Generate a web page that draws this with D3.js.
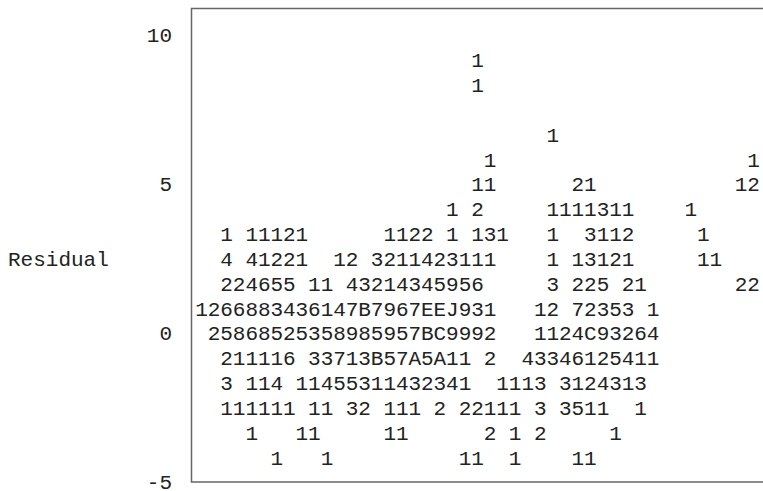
<!DOCTYPE html>
<html>
<head>
<meta charset="utf-8">
<script src="https://cdn.jsdelivr.net/npm/d3@7/dist/d3.min.js"></script>
<style>
  html, body { margin: 0; padding: 0; background: #fff; }
  svg text { font-family: "Liberation Mono", "Courier New", monospace; }
</style>
</head>
<body>
<svg width="763" height="491"></svg>
<script>
// residual value of each printer line (6 lines per 5 units)
var rowLevels = [9.17, 8.33, 7.5, 6.67, 5.83, 5, 4.17, 3.33, 2.5, 1.67, 0.83, 0,
                 -0.83, -1.67, -2.5, -3.33, -4.17];

// symbols printed on each line, one character per column (count of obs)
var rowSymbols = [
  "                      1",
  "                      1",
  "",
  "                            1",
  "                       1                    1",
  "                      11      21           12",
  "                    1 2     1111311    1",
  "  1 11121      1122 1 131   1  3112     1",
  "  4 41221  12 3211423111    1 13121     11",
  "  224655 11 43214345956     3 225 21       22",
  "1266883436147B7967EEJ931   12 72353 1",
  " 25868525358985957BC9992   1124C93264",
  "  211116 33713B57A5A11 2  43346125411",
  "  3 114 11455311432341  1113 3124313",
  "  111111 11 32 111 2 22111 3 3511  1",
  "    1   11     11      2 1 2     1",
  "      1   1          11  1    11"
];

var yTicks = [10, 5, 0, -5];
var yLabel = "Residual";

var svg = d3.select("svg"),
    width = +svg.attr("width"),
    height = +svg.attr("height");

var fontSize = 21;

var x = d3.scaleLinear()
    .domain([0, 44])
    .range([201.5, 753.5]);

var y = d3.scaleLinear()
    .domain([-5, 10])
    .range([482, 35]);

// frame (right side runs off the page)
svg.append("rect")
    .attr("x", 191.5)
    .attr("y", 8.5)
    .attr("width", 620)
    .attr("height", 473.5)
    .attr("fill", "none")
    .attr("stroke", "#666")
    .attr("stroke-width", 1.5);

// y axis labels only
var yAxis = svg.append("g")
    .attr("transform", "translate(172,0)")
    .call(d3.axisLeft(y)
        .tickValues(yTicks)
        .tickSize(0)
        .tickPadding(0)
        .tickFormat(function (d) { return d < 0 ? "-" + (-d) : d; }));

yAxis.select(".domain").remove();
yAxis.selectAll("text")
    .attr("font-size", fontSize)
    .attr("font-family", "Liberation Mono, monospace")
    .attr("fill", "#222");

svg.append("text")
    .attr("x", 8)
    .attr("y", y(2.5))
    .attr("dy", "0.35em")
    .attr("font-size", fontSize)
    .attr("fill", "#222")
    .text(yLabel);

var cells = [];
rowLevels.forEach(function (lv, i) {
    rowSymbols[i].split("").forEach(function (ch, c) {
        if (ch !== " ") cells.push({ col: c, level: lv, sym: ch });
    });
});

svg.append("g")
    .selectAll("text")
    .data(cells)
    .enter().append("text")
    .attr("x", function (d) { return x(d.col); })
    .attr("y", function (d) { return y(d.level); })
    .attr("dy", "0.35em")
    .attr("text-anchor", "middle")
    .attr("font-size", fontSize)
    .attr("fill", "#222")
    .text(function (d) { return d.sym; });
</script>
</body>
</html>
